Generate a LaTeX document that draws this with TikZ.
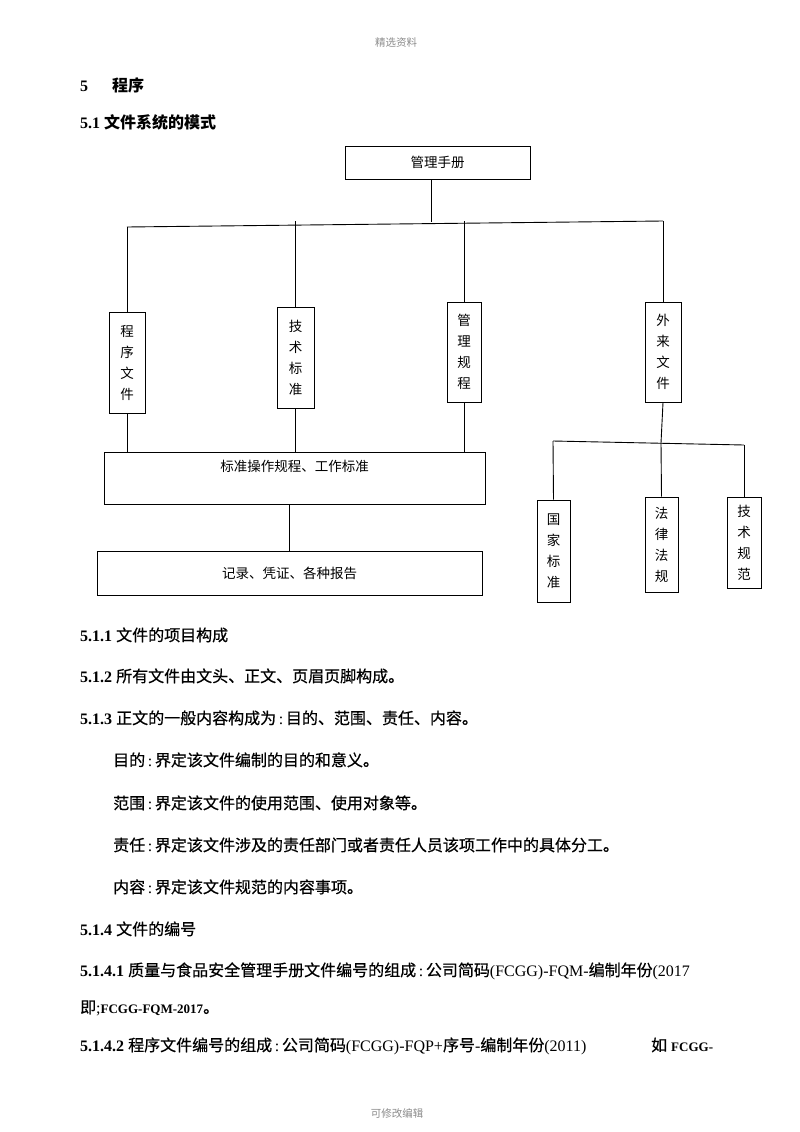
\documentclass[tikz,border=0pt]{standalone}
\usepackage{fontspec}
\setmainfont{Liberation Serif}
\newfontfamily\cjk{Noto Sans CJK SC}
\newfontfamily\cjkdark[FakeBold=0.6]{Noto Sans CJK SC}
\newcommand{\zh}[1]{{\cjkdark #1}}
\newcommand{\colonsep}{\,:\,}

\tikzset{
	vbox/.style = {draw = black, shape = rectangle, line width = 0.9pt,
				   inner sep = 0pt, align = center,
				   font = \cjk\fontsize{13.5}{21}\selectfont},
	hbox/.style = {draw = black, shape = rectangle, line width = 0.9pt,
				   inner sep = 0pt,
				   font = \cjk\fontsize{13.5}{16}\selectfont},
	textline/.style = {anchor = base west, inner sep = 0pt,
					   font = \fontsize{16}{19}\selectfont},
	pagenote/.style = {anchor = base, inner sep = 0pt, text = black!45,
					   font = \cjk\fontsize{10.5}{12}\selectfont},
	link/.style = {line width = 0.9pt}
}

\begin{document}
\begin{tikzpicture}[x = 1pt, y = -1pt]
	\useasboundingbox[fill = white] (0, 0) rectangle (800, 1132);

	\draw (396, 47) node[pagenote](head){精选资料};
	\draw (397, 1117) node[pagenote](foot){可修改编辑};

	\draw (80, 92) node[textline](sec5){\makebox[32pt][l]{\bfseries 5}{\cjk\bfseries 程序}};
	\draw (80, 128) node[textline](sec51){{\bfseries 5.1} {\cjk\bfseries 文件系统的模式}};

	% chart
	\draw (437.5, 162.5) node[hbox,
					  minimum width = 185pt,
					  minimum height = 33pt
			   ](manual){管理手册};

	\draw (127, 362.5) node[vbox,
					  minimum width = 36pt,
					  minimum height = 101pt
			   ](proc){程\\序\\文\\件};
	\draw (295.5, 357.5) node[vbox,
					  minimum width = 37pt,
					  minimum height = 101pt
			   ](tech){技\\术\\标\\准};
	\draw (464, 352) node[vbox,
					  minimum width = 34pt,
					  minimum height = 100pt
			   ](mgmt){管\\理\\规\\程};
	\draw (663, 352) node[vbox,
					  minimum width = 36pt,
					  minimum height = 100pt
			   ](ext){外\\来\\文\\件};

	\draw (294.5, 478) node[hbox,
					  minimum width = 381pt,
					  minimum height = 52pt,
					  text height = 11pt,
					  text depth = 25pt
			   ](std){标准操作规程、工作标准};
	\draw (289.5, 573) node[hbox,
					  minimum width = 385pt,
					  minimum height = 44pt
			   ](rec){记录、凭证、各种报告};

	\draw (553.5, 551) node[vbox,
					  minimum width = 33pt,
					  minimum height = 102pt
			   ](natl){国\\家\\标\\准};
	\draw (661.5, 544.5) node[vbox,
					  minimum width = 33pt,
					  minimum height = 95pt
			   ](law){法\\律\\法\\规};
	\draw (744, 542.5) node[vbox,
					  minimum width = 34pt,
					  minimum height = 91pt
			   ](spec){技\\术\\规\\范};

	\coordinate (busL) at (127, 227);
	\coordinate (busM) at (431, 222);
	\coordinate (busR) at (663, 221);
	\coordinate (subL) at (553, 441);
	\coordinate (subM) at (661, 443);
	\coordinate (subR) at (744, 445);

	\draw[link] (busM |- manual.south) -- (busM);
	\draw[link] (busL) -- (busR);

	\draw[link] (busL) -- (proc.north);
	\draw[link] (tech.north |- busR) -- (tech.north);
	\draw[link] (mgmt.north |- busR) -- (mgmt.north);
	\draw[link] (busR) -- (ext.north);

	\draw[link] (proc.south) -- (proc.south |- std.north);
	\draw[link] (tech.south) -- (tech.south |- std.north);
	\draw[link] (mgmt.south) -- (mgmt.south |- std.north);

	\draw[link] (rec.north |- std.south) -- (rec.north);

	\draw[link] (ext.south) -- (subM);
	\draw[link] (subL) -- (subR);
	\draw[link] (subL) -- (natl.north);
	\draw[link] (subM) -- (law.north);
	\draw[link] (subR) -- (spec.north);

	% text
	\draw (80, 641) node[textline](l511){{\bfseries 5.1.1} \zh{文件的项目构成}};
	\draw (80, 682) node[textline](l512){{\bfseries 5.1.2} \zh{所有文件由文头、正文、页眉页脚构成。}};
	\draw (80, 724) node[textline](l513){{\bfseries 5.1.3} \zh{正文的一般内容构成为}\colonsep\zh{目的、范围、责任、内容。}};
	\draw (113, 766) node[textline](aim){\zh{目的}\colonsep\zh{界定该文件编制的目的和意义。}};
	\draw (113, 809) node[textline](scope){\zh{范围}\colonsep\zh{界定该文件的使用范围、使用对象等。}};
	\draw (113, 851) node[textline](duty){\zh{责任}\colonsep\zh{界定该文件涉及的责任部门或者责任人员该项工作中的具体分工。}};
	\draw (113, 893) node[textline](cont){\zh{内容}\colonsep\zh{界定该文件规范的内容事项。}};
	\draw (80, 935) node[textline](l514){{\bfseries 5.1.4} \zh{文件的编号}};
	\draw (80, 976) node[textline](l5141){{\bfseries 5.1.4.1} \zh{质量与食品安全管理手册文件编号的组成}\colonsep\zh{公司简码}(FCGG)-FQM-\zh{编制年份}(2017};
	\draw (80, 1013) node[textline](l5141b){\zh{即};{\bfseries\fontsize{13}{16}\selectfont FCGG-FQM-2017}\zh{。}};
	\draw (80, 1051) node[textline](l5142){{\bfseries 5.1.4.2} \zh{程序文件编号的组成}\colonsep\zh{公司简码}(FCGG)-FQP+\zh{序号}-\zh{编制年份}(2011)};
	\draw (651, 1051) node[textline](l5142b){\zh{如} {\bfseries\fontsize{13}{16}\selectfont FCGG-}};
\end{tikzpicture}
\end{document}
